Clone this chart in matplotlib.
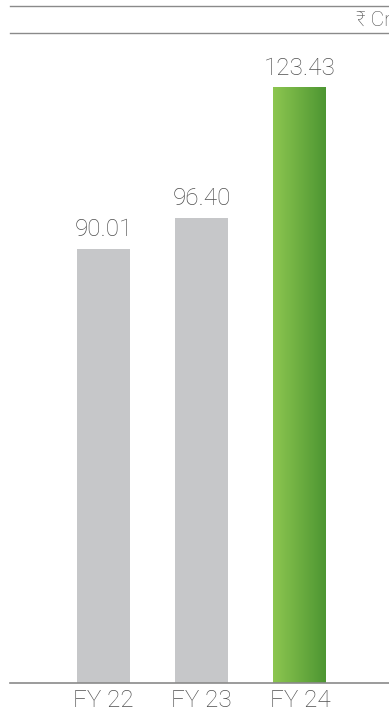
import numpy as np
import matplotlib
matplotlib.use("Agg")
import matplotlib.pyplot as plt
from matplotlib.colors import LinearSegmentedColormap
from matplotlib.lines import Line2D

categories = ["FY 22", "FY 23", "FY 24"]
values = [90.01, 96.40, 123.43]
value_labels = ["90.01", "96.40", "123.43"]
unit_label = "\u20b9 Cr"

W, H = 389, 715
plt.rcParams["font.family"] = ["Roboto", "DejaVu Sans"]
fig = plt.figure(figsize=(W / 100, H / 100), dpi=100)

# axes: x from 10px to right edge, y from baseline (683px) up to the 2nd rule (33px)
ax = fig.add_axes([10 / W, (H - 683) / H, (W - 10) / W, (683 - 33) / H])

gray = "#c6c7c9"
width = 0.54
x = np.arange(len(categories))
ax.bar(x[:2], values[:2], width=width, color=gray, zorder=2)

# gradient bar for latest year
green = LinearSegmentedColormap.from_list("g", ["#8dc650", "#4d9632"])
grad = np.linspace(0, 1, 256).reshape(1, -1)
x0, x1 = x[2] - width / 2, x[2] + width / 2
ax.imshow(grad, cmap=green, aspect="auto", extent=(x0, x1, 0, values[2]),
          zorder=2, interpolation="bilinear")
ax.set_xlim(-0.954, 2.908)
ax.set_ylim(0, 134.7)

txt = "#4f4f4f"
for xi, v, lab in zip(x, values, value_labels):
    ax.text(xi, v + 1.6, lab, ha="center", va="bottom", fontsize=17.5,
            color=txt, fontweight="light")

ax.set_xticks(x)
ax.set_xticklabels(categories, fontsize=17.5, color=txt, fontweight="light")
ax.tick_params(axis="x", length=0, pad=4)
ax.set_yticks([])
for s in ["left", "right"]:
    ax.spines[s].set_visible(False)
ax.spines["bottom"].set_color("#8a8a8a")
ax.spines["bottom"].set_linewidth(1.2)
ax.spines["top"].set_color("#8a8a8a")
ax.spines["top"].set_linewidth(1.0)

# top rule and unit label
fig.add_artist(Line2D([10 / W, 1], [1 - 6 / H, 1 - 6 / H], color="#8a8a8a",
                      linewidth=1.0))
fig.text(356 / W, 1 - 20 / H, unit_label, ha="left", va="center",
         fontsize=15, color=txt, fontweight="light")

fig.savefig("out.png", dpi=100)
